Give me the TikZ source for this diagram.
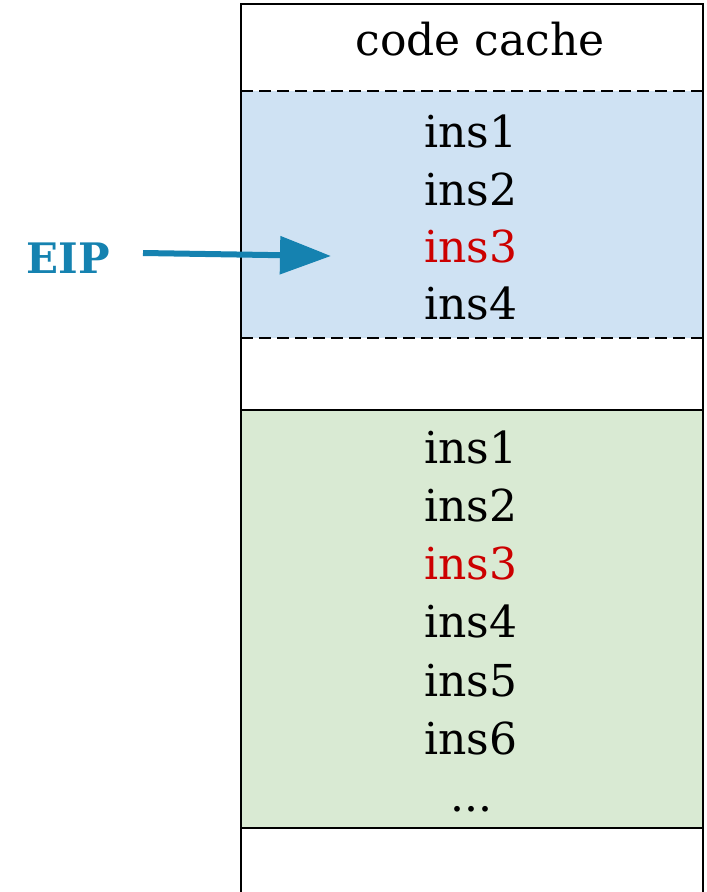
\documentclass[tikz,border=0pt]{standalone}
\usepackage{fontspec}
\setmainfont{DejaVu Serif}
\usetikzlibrary{arrows.meta}
\definecolor{blockblue}{HTML}{CFE2F3}
\definecolor{blockgreen}{HTML}{D9EAD3}
\definecolor{insred}{HTML}{CC0000}
\definecolor{eipblue}{HTML}{1582B0}
\tikzset{
  region/.style={line width=1.5pt},
  insline/.style={font=\fontsize{44}{44}\selectfont, inner sep=0pt, anchor=base},
}
\begin{document}
\begin{tikzpicture}[x=1pt,y=-1pt]
  \useasboundingbox (0,0) rectangle (707,892);
  % blocks inside the cache
  \fill[blockblue] (241,91) rectangle (703,338);
  \draw[region, dash pattern=on 12pt off 6pt] (241,91) -- (703,91);
  \draw[region, dash pattern=on 12pt off 6pt] (241,338) -- (703,338);
  \draw[region, fill=blockgreen] (241,410) rectangle (703,828);
  % cache outline (open at the bottom)
  \draw[region] (241,892) -- (241,4) -- (703,4) -- (703,892);
  % title
  \node[insline] (title) at (480,55) {code cache};
  % translated block
  \node[insline] (b1) at (471,147) {ins1};
  \node[insline] (b2) at (471,205) {ins2};
  \node[insline, text=insred] (b3) at (471,262) {ins3};
  \node[insline] (b4) at (471,319) {ins4};
  % original block
  \node[insline] (g1) at (471,463) {ins1};
  \node[insline] (g2) at (471,521) {ins2};
  \node[insline, text=insred] (g3) at (471,579) {ins3};
  \node[insline] (g4) at (471,637) {ins4};
  \node[insline] (g5) at (471,696) {ins5};
  \node[insline] (g6) at (471,754) {ins6};
  \node[insline] (g7) at (471,811) {...};
  % instruction pointer
  \node[font=\bfseries\fontsize{42}{42}\selectfont, text=eipblue, inner sep=0pt, anchor=base] (eip) at (68,273) {EIP};
  \coordinate (ptrstart) at (143,253);
  \coordinate (ptrend) at (331,256);
  \draw[eipblue, line width=6pt, -{Triangle[length=51pt,width=37pt]}] (ptrstart) -- (ptrend);
\end{tikzpicture}
\end{document}
